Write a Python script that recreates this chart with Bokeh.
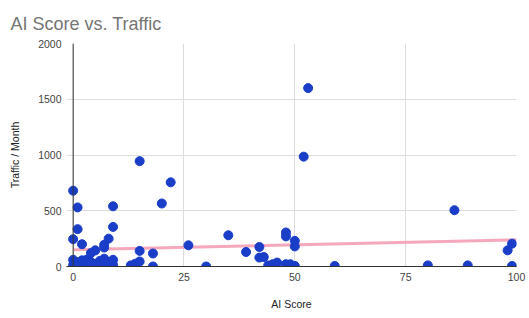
from bokeh.plotting import figure
from bokeh.models import Span, Range1d, FixedTicker
from bokeh.embed import file_html
from bokeh.resources import INLINE

# AI score (x) and traffic per month (y)
ai_score = [0, 1, 1, 0, 2, 9, 9, 8, 7, 7, 5, 4,
            0, 0, 1, 1, 2, 3, 3, 4, 4, 5, 6, 6, 7, 7, 8, 8, 9, 9,
            13, 14, 15, 15, 15, 18, 18, 20, 22, 26, 30, 35, 39, 42, 42, 43,
            44, 45, 46, 48, 48, 48, 49, 50, 50, 50, 52, 53, 59, 80, 86, 89,
            98, 99, 99]
traffic = [680, 530, 335, 245, 200, 540, 355, 250, 195, 170, 145, 120,
           60, 15, 40, 5, 55, 20, 60, 5, 40, 20, 50, 10, 20, 70, 10, 40, 15, 60,
           10, 25, 45, 140, 945, 117, 0, 565, 755, 190, 0, 280, 130, 175, 80, 85,
           10, 20, 35, 305, 270, 20, 20, 230, 180, 5, 985, 1600, 5, 10, 505, 10,
           145, 205, 5]

# trendline endpoints
trend_x = [0, 100]
trend_y = [150, 240]

x_ticks = [0, 25, 50, 75, 100]
y_ticks = [0, 500, 1000, 1500, 2000]

FONT = "Liberation Sans"

p = figure(width=529, height=318, output_backend="svg", toolbar_location=None,
           x_range=Range1d(-1.5, 100), y_range=Range1d(0, 2000),
           title="AI Score vs. Traffic",
           min_border_left=66, min_border_right=13, min_border_top=43, min_border_bottom=52)

p.outline_line_color = None
p.background_fill_color = "white"
p.border_fill_color = "white"

p.title.text_font = FONT
p.title.text_font_size = "18px"
p.title.text_font_style = "normal"
p.title.text_color = "#757575"
p.title.offset = -56
p.title.standoff = 20

p.xaxis.ticker = FixedTicker(ticks=x_ticks)
p.yaxis.ticker = FixedTicker(ticks=y_ticks)
for ax in (p.xaxis, p.yaxis):
    ax.major_tick_line_color = None
    ax.minor_tick_line_color = None
    ax.major_tick_out = 0
    ax.major_tick_in = 0
    ax.major_label_text_font = FONT
    ax.major_label_text_font_size = "10.5px"
    ax.major_label_text_color = "#444444"
    ax.axis_label_text_font = FONT
    ax.axis_label_text_font_size = "10.5px"
    ax.axis_label_text_font_style = "normal"
    ax.axis_label_text_color = "#222222"

p.xaxis.axis_label = "AI Score"
p.yaxis.axis_label = "Traffic / Month"
p.xaxis.axis_line_color = "#333333"
p.yaxis.axis_line_color = None
p.xaxis.major_label_standoff = 6
p.yaxis.major_label_standoff = 5
p.xaxis.axis_label_standoff = 14
p.yaxis.axis_label_standoff = 14

p.xgrid.ticker = FixedTicker(ticks=x_ticks)
p.ygrid.ticker = FixedTicker(ticks=y_ticks)
p.grid.grid_line_color = "#dddddd"

p.add_layout(Span(location=0, dimension="height", line_color="#333333", line_width=1))

p.line(trend_x, trend_y, line_color="#f4a3b8", line_width=3, line_alpha=0.95)
p.scatter(ai_score, traffic, size=9, fill_color="#1a3ec8", line_color="#1a3ec8")

open("out.html", "w").write(file_html(p, INLINE))
